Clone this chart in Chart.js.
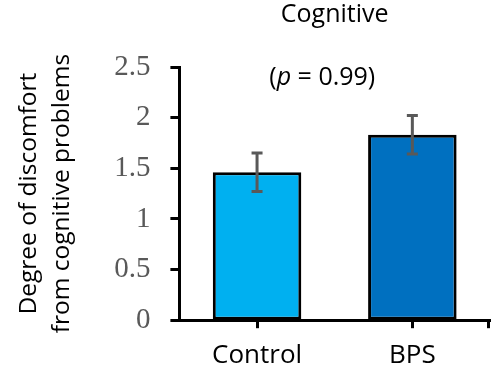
<!DOCTYPE html>
<html lang="en">
<head>
    <meta charset="UTF-8">
    <script src="https://cdn.jsdelivr.net/npm/chart.js"></script>
    <title>Cognitive</title>
    <style>
        * { margin: 0; padding: 0; box-sizing: border-box; }
        body { background: #fff; }
        #wrap { width: 494px; height: 383px; }
    </style>
</head>
<body>
<div id="wrap"><canvas id="chart"></canvas></div>
<script>
    // data
    const groups = ['Control', 'BPS'];
    const means = [1.46, 1.83];
    const errors = [0.19, 0.19];
    const barColors = ['#00B0F0', '#0070C0'];
    const yTickLabels = ['0', '0.5', '1', '1.5', '2', '2.5'];
    const pText = ['(', 'p', ' = 0.99)'];

    const sans = "'Open Sans', 'Liberation Sans', sans-serif";
    const serif = "'Liberation Serif', 'DejaVu Serif', serif";

    // error bars, end tick on the x axis and the p-value note
    const extras = {
        id: 'extras',
        afterDatasetsDraw(chart) {
            const ctx = chart.ctx;
            const y = chart.scales.y;
            const area = chart.chartArea;
            const meta = chart.getDatasetMeta(0);
            ctx.save();
            ctx.strokeStyle = '#595959';
            ctx.lineWidth = 3;
            meta.data.forEach((bar, i) => {
                const top = y.getPixelForValue(means[i] + errors[i]);
                const bot = y.getPixelForValue(means[i] - errors[i]);
                ctx.beginPath();
                ctx.moveTo(bar.x, top); ctx.lineTo(bar.x, bot);
                ctx.moveTo(bar.x - 5.5, top); ctx.lineTo(bar.x + 5.5, top);
                ctx.moveTo(bar.x - 5.5, bot); ctx.lineTo(bar.x + 5.5, bot);
                ctx.stroke();
            });
            // closing tick at the right end of the x axis
            ctx.strokeStyle = '#000';
            ctx.beginPath();
            ctx.moveTo(area.right - 1.5, area.bottom);
            ctx.lineTo(area.right - 1.5, area.bottom + 8);
            ctx.stroke();

            // (p = 0.99)
            const fonts = ['25px ' + sans, 'italic 25px ' + sans, '25px ' + sans];
            let total = 0;
            const widths = pText.map((t, i) => { ctx.font = fonts[i]; const w = ctx.measureText(t).width; total += w; return w; });
            let x = area.left + 0.46 * (area.right - area.left) - total / 2;
            const ty = y.getPixelForValue(2.39);
            ctx.fillStyle = '#000';
            ctx.textBaseline = 'middle';
            ctx.textAlign = 'left';
            pText.forEach((t, i) => { ctx.font = fonts[i]; ctx.fillText(t, x, ty); x += widths[i]; });
            ctx.restore();
        }
    };

    new Chart(document.getElementById('chart'), {
        type: 'bar',
        data: {
            labels: groups,
            datasets: [{
                data: means,
                backgroundColor: barColors,
                borderColor: '#000',
                borderWidth: 3,
                borderSkipped: false,
                categoryPercentage: 1,
                barPercentage: 0.57
            }]
        },
        options: {
            responsive: true,
            maintainAspectRatio: false,
            animation: false,
            layout: { padding: { left: 8, right: 4, top: 0, bottom: 0 } },
            plugins: {
                legend: { display: false },
                tooltip: { enabled: false },
                title: {
                    display: true,
                    text: 'Cognitive',
                    fullSize: false,
                    color: '#000',
                    font: { family: sans, size: 25, weight: 'normal' },
                    padding: { top: 0, bottom: 37 }
                }
            },
            scales: {
                x: {
                    border: { color: '#000', width: 3 },
                    grid: { offset: false, drawOnChartArea: false, tickLength: 8, tickWidth: 3, tickColor: '#000' },
                    ticks: { color: '#000', font: { family: sans, size: 26, lineHeight: 0.8 }, padding: 17 }
                },
                y: {
                    min: 0,
                    max: 2.5,
                    border: { color: '#000', width: 3 },
                    grid: { drawOnChartArea: false, tickLength: 9, tickWidth: 3, tickColor: '#000' },
                    ticks: {
                        stepSize: 0.5,
                        color: '#595959',
                        font: { family: serif, size: 29 },
                        padding: 20,
                        callback: (v, i) => yTickLabels[i]
                    },
                    title: {
                        display: true,
                        text: ['Degree of discomfort', 'from cognitive problems'],
                        color: '#000',
                        font: { family: sans, size: 24.5, lineHeight: 1.35 },
                        padding: { top: 4, bottom: 16 }
                    }
                }
            }
        },
        plugins: [extras]
    });
</script>
</body>
</html>
